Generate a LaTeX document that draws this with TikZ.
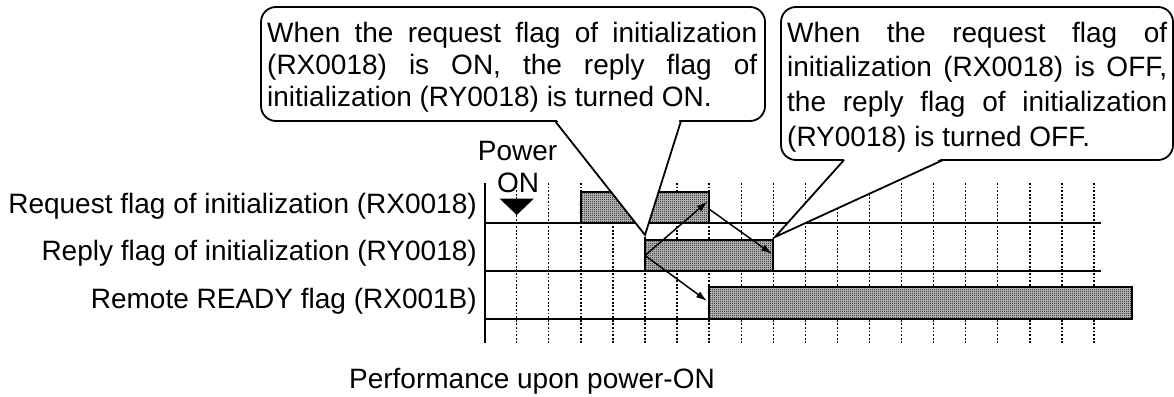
\documentclass[tikz,border=0pt]{standalone}
\usepackage{fontspec}
\setmainfont{Liberation Sans}
\usetikzlibrary{arrows.meta,patterns}
\pgfdeclarepatternformonly{checker}{\pgfqpoint{0pt}{0pt}}{\pgfqpoint{2pt}{2pt}}{\pgfqpoint{2pt}{2pt}}{%
  \pgfpathrectangle{\pgfqpoint{0pt}{0pt}}{\pgfqpoint{1pt}{1pt}}%
  \pgfpathrectangle{\pgfqpoint{1pt}{1pt}}{\pgfqpoint{1pt}{1pt}}%
  \pgfusepath{fill}}
\begin{document}
\begin{tikzpicture}[x=1pt,y=-1pt,
  lbl/.style={font=\fontsize{28}{32}\selectfont, inner sep=0pt},
  gridline/.style={line width=1.4pt, dash pattern=on 1.8pt off 1.8pt},
  baseline/.style={line width=2pt},
  bar/.style={line width=2pt, fill=gray!45, postaction={pattern=checker}},
  conn/.style={line width=1.5pt, -{Latex[length=11pt,width=7pt]}},
  callout/.style={line width=1.8pt, fill=white},
]
\useasboundingbox (0,0) rectangle (1174,396);

% time grid
\foreach \k in {0,...,18} \draw[gridline] ({516.7+32.07*\k},183) -- ({516.7+32.07*\k},343);
% axis and baselines
\draw[baseline] (485,183) -- (485,343);
\draw[baseline] (485,223) -- (1101,223);
\draw[baseline] (485,271) -- (1101,271);
\draw[baseline] (485,319) -- (1101,319);
% signal pulses
\draw[bar] (581,223) rectangle (709,192);
\draw[bar] (645,271) rectangle (773,240);
\draw[bar] (709,319) rectangle (1132,287);

% power-on marker
\fill (499.5,198.5) -- (534,198.5) -- (516.7,215) -- cycle;
\node[lbl, anchor=base] (pw) at (517.5,160) {Power};
\node[lbl, anchor=base] (on) at (518,192) {ON};

% edge points
\coordinate (rpyR) at (645,255.5);
\coordinate (reqFa) at (707.5,201.5);
\coordinate (reqFb) at (709,209);
\coordinate (rpyF) at (772,254);
\coordinate (rdyR) at (707,301);
\draw[conn] (rpyR) -- (reqFa);
\draw[conn] (rpyR) -- (rdyR);
\draw[conn] (reqFb) -- (rpyF);

% signal labels
\node[lbl, anchor=base east] (l1) at (477,213) {Request flag of initialization (RX0018)};
\node[lbl, anchor=base east] (l2) at (477,260) {Reply flag of initialization (RY0018)};
\node[lbl, anchor=base east] (l3) at (477,308) {Remote READY flag (RX001B)};

% callout 1
\draw[callout, rounded corners=15pt] (261,7) rectangle (765,121);
\fill[white] (556.5,119.5) -- (679.5,119.5) -- (645,235) -- cycle;
\draw[line width=1.8pt] (555,121) -- (645,235) -- (681,121);
\node[lbl, anchor=base west] (c1a) at (267,42.5) {\makebox[490pt][s]{When the request flag of initialization}};
\node[lbl, anchor=base west] (c1b) at (267,74.5) {\makebox[490pt][s]{(RX0018) is ON, the reply flag of}};
\node[lbl, anchor=base west] (c1c) at (267,106.5) {initialization (RY0018) is turned ON.};

% callout 2
\draw[callout, rounded corners=15pt] (781,7) rectangle (1173,160);
\fill[white] (845,158.5) -- (942,158.5) -- (775,237) -- cycle;
\draw[line width=1.8pt] (844,160) -- (775,237) -- (943,160);
\node[lbl, anchor=base west] (c2a) at (787,42.5) {\makebox[380pt][s]{When the request flag of}};
\node[lbl, anchor=base west] (c2b) at (787,77) {\makebox[380pt][s]{initialization (RX0018) is OFF,}};
\node[lbl, anchor=base west] (c2c) at (787,111.5) {\makebox[380pt][s]{the reply flag of initialization}};
\node[lbl, anchor=base west] (c2d) at (787,146) {(RY0018) is turned OFF.};

% caption
\node[lbl, anchor=base] (cap) at (532,388) {Performance upon power-ON};
\end{tikzpicture}
\end{document}
